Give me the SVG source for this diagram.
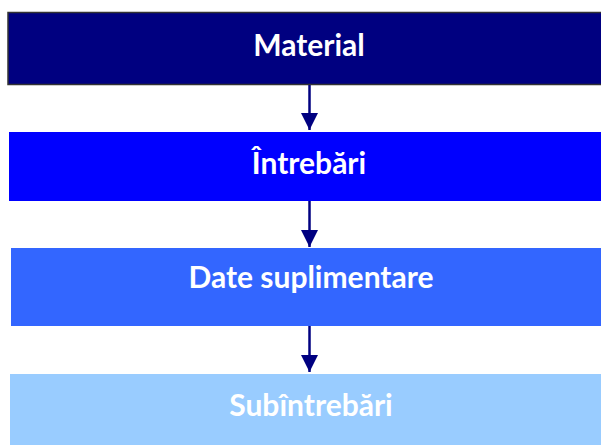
<svg xmlns="http://www.w3.org/2000/svg" width="601" height="445" viewBox="0 0 601 445">
<style>
.lbl{font-family:Lato,"Open Sans","Liberation Sans",sans-serif;font-weight:bold;font-size:30px;fill:#ffffff;text-anchor:middle}
.conn{stroke:#000080;stroke-width:2.5;fill:none}
</style>
<defs>
<marker id="ah" viewBox="0 0 10 10" refX="10" refY="5" markerWidth="17" markerHeight="17" markerUnits="userSpaceOnUse" orient="auto">
<path d="M0,0 L10,5 L0,10 Z" fill="#000080"/>
</marker>
</defs>
<g id="node-material">
<rect x="8" y="12.5" width="600" height="72" fill="#000080" stroke="#333333" stroke-width="1.5"/>
<text class="lbl" x="309" y="56">Material</text>
</g>
<g id="node-intrebari">
<rect x="9" y="132" width="600" height="69" fill="#0000ff"/>
<text class="lbl" x="309" y="174">Întrebări</text>
</g>
<g id="node-date">
<rect x="11" y="248" width="600" height="78" fill="#3366ff"/>
<text class="lbl" x="311" y="288">Date suplimentare</text>
</g>
<g id="node-subintrebari">
<rect x="10" y="374" width="600" height="80" fill="#99ccff"/>
<text class="lbl" x="311" y="416">Subîntrebări</text>
</g>
<g id="connectors">
<line class="conn" x1="309.5" y1="85" x2="309.5" y2="130" marker-end="url(#ah)"/>
<line class="conn" x1="309.5" y1="201" x2="309.5" y2="247" marker-end="url(#ah)"/>
<line class="conn" x1="309.5" y1="326" x2="309.5" y2="372" marker-end="url(#ah)"/>
</g>
</svg>
